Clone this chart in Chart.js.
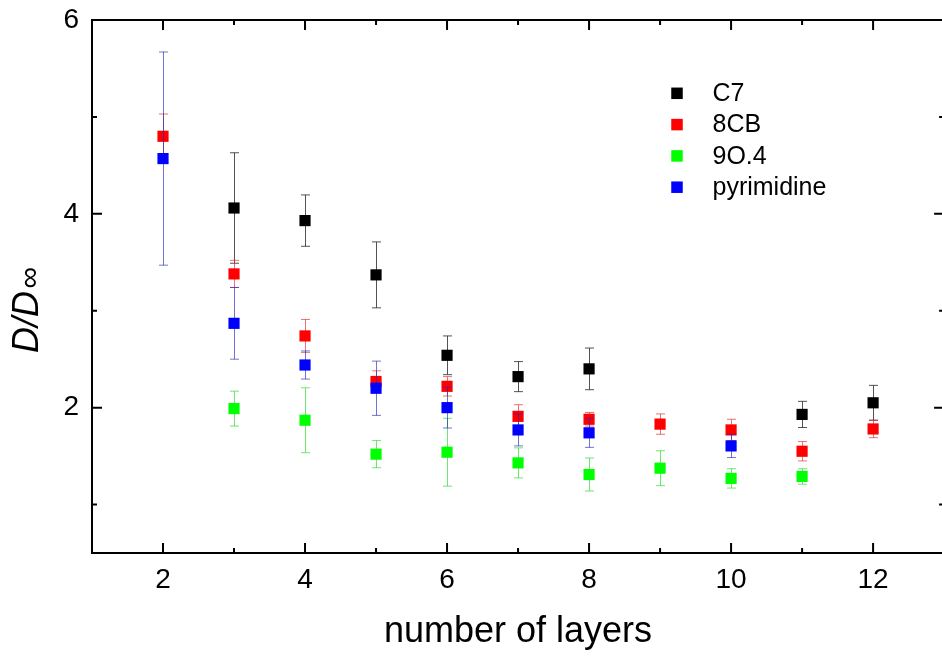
<!DOCTYPE html>
<html><head><meta charset="utf-8">
<script src="https://cdn.jsdelivr.net/npm/chart.js@4.4.1/dist/chart.umd.min.js"></script>
<style>html,body{margin:0;padding:0;background:#fff;overflow:hidden;width:942px;height:657px}canvas{display:block}</style>
</head><body><canvas id="c" width="952" height="657"></canvas>
<script>
// ---- data ----
const seriesNames = ["C7", "8CB", "9O.4", "pyrimidine"];
const seriesColors = ["#000000", "#ff0000", "#00ff00", "#0000ff"];
const errorColors = ["rgba(40,40,40,0.8)", "rgba(220,40,40,0.65)", "rgba(30,220,30,0.65)", "rgba(40,40,190,0.65)"];

const c7Layers = [3, 4, 5, 6, 7, 8, 11, 12];
const c7Values = [4.06, 3.93, 3.37, 2.54, 2.32, 2.40, 1.93, 2.05];
const c7Errors = [0.57, 0.265, 0.34, 0.20, 0.155, 0.215, 0.135, 0.18];

const cb8Layers = [2, 3, 4, 5, 6, 7, 8, 9, 10, 11, 12];
const cb8Values = [4.80, 3.38, 2.74, 2.27, 2.22, 1.91, 1.88, 1.83, 1.77, 1.55, 1.78];
const cb8Errors = [0.23, 0.14, 0.17, 0.11, 0.10, 0.12, 0.07, 0.105, 0.11, 0.10, 0.09];

const o94Layers = [3, 4, 5, 6, 7, 8, 9, 10, 11];
const o94Values = [1.99, 1.87, 1.52, 1.54, 1.43, 1.31, 1.375, 1.27, 1.29];
const o94Errors = [0.18, 0.335, 0.14, 0.35, 0.155, 0.17, 0.18, 0.10, 0.08];

const pyrLayers = [2, 3, 4, 5, 6, 7, 8, 10];
const pyrValues = [4.57, 2.87, 2.44, 2.20, 2.00, 1.77, 1.74, 1.605];
const pyrErrors = [1.10, 0.37, 0.145, 0.28, 0.21, 0.165, 0.15, 0.12];

const xMajorTicks = [2, 4, 6, 8, 10, 12];
const xMinorTicks = [1, 3, 5, 7, 9, 11, 13];
const yMajorTicks = [2, 4, 6];
const yMinorTicks = [1, 3, 5];
const xTitle = "number of layers";
const yTitleMain = "D/D";
const yTitleSub = "\u221E";

// ---- build ----
const allLayers = [c7Layers, cb8Layers, o94Layers, pyrLayers];
const allValues = [c7Values, cb8Values, o94Values, pyrValues];
const allErrors = [c7Errors, cb8Errors, o94Errors, pyrErrors];
const FONT = '"Liberation Sans", Arial, sans-serif';

const datasets = seriesNames.map((name, k) => ({
  label: name,
  data: allLayers[k].map((x, i) => ({x: x, y: allValues[k][i]})),
  backgroundColor: seriesColors[k],
  borderColor: seriesColors[k],
  borderWidth: 0,
  pointStyle: 'rect',
  pointRadius: 7.9,
  pointHoverRadius: 7.9,
  order: seriesNames.length - k
}));

const framePlugin = {
  id: 'framePlugin',
  beforeDatasetDraw(chart, args) {
    const k = args.index;
    const xs = chart.scales.x, ys = chart.scales.y, ctx = chart.ctx;
    ctx.save();
    ctx.strokeStyle = errorColors[k];
    ctx.lineWidth = 1;
    allLayers[k].forEach((xv, i) => {
      const px = Math.round(xs.getPixelForValue(xv)) + 0.5;
      const yt = ys.getPixelForValue(allValues[k][i] + allErrors[k][i]);
      const yb = ys.getPixelForValue(allValues[k][i] - allErrors[k][i]);
      ctx.beginPath();
      ctx.moveTo(px, yt); ctx.lineTo(px, yb);
      ctx.moveTo(px - 4.5, yt); ctx.lineTo(px + 4.5, yt);
      ctx.moveTo(px - 4.5, yb); ctx.lineTo(px + 4.5, yb);
      ctx.stroke();
    });
    ctx.restore();
  },
  afterDraw(chart) {
    const {ctx, chartArea: a} = chart;
    const xs = chart.scales.x, ys = chart.scales.y;
    ctx.save();
    ctx.strokeStyle = '#000';
    ctx.lineWidth = 2;
    ctx.strokeRect(a.left, a.top, a.right - a.left, a.bottom - a.top);
    ctx.beginPath();
    const tk = (list, len) => list.forEach(v => {
      const px = xs.getPixelForValue(v);
      ctx.moveTo(px, a.bottom); ctx.lineTo(px, a.bottom - len);
      ctx.moveTo(px, a.top); ctx.lineTo(px, a.top + len);
    });
    const tky = (list, len) => list.forEach(v => {
      const py = ys.getPixelForValue(v);
      ctx.moveTo(a.left, py); ctx.lineTo(a.left + len, py);
      ctx.moveTo(a.right, py); ctx.lineTo(a.right - len, py);
    });
    tk(xMajorTicks, 10); tk(xMinorTicks, 5);
    tky(yMajorTicks, 10); tky(yMinorTicks, 5);
    ctx.stroke();

    // y title
    ctx.fillStyle = '#000';
    ctx.translate(38, 353);
    ctx.rotate(-Math.PI / 2);
    ctx.textAlign = 'left';
    ctx.textBaseline = 'alphabetic';
    ctx.font = 'italic 36px ' + FONT;
    ctx.fillText(yTitleMain, 0, 0);
    const w = ctx.measureText(yTitleMain).width;
    ctx.font = 'italic 30px ' + FONT;
    ctx.fillText(yTitleSub, w + 2, 1);
    ctx.setTransform(1, 0, 0, 1, 0, 0);

    // legend
    const lx = 677, ly0 = 93.3, dy = 31.3, sz = 11.5;
    ctx.font = '25px ' + FONT;
    ctx.textBaseline = 'middle';
    ctx.textAlign = 'left';
    seriesNames.forEach((n, k) => {
      const y = ly0 + k * dy;
      ctx.fillStyle = seriesColors[k];
      ctx.fillRect(lx - sz / 2, y - sz / 2, sz, sz);
      ctx.fillStyle = '#000';
      ctx.fillText(n, 712.5, y + 1);
    });
    ctx.restore();
  }
};

new Chart(document.getElementById('c'), {
  type: 'scatter',
  data: {datasets},
  options: {
    responsive: false,
    animation: false,
    devicePixelRatio: 1,
    layout: {padding: {top: 20, right: 3, left: 0, bottom: 0}},
    plugins: {legend: {display: false}, tooltip: {enabled: false}},
    scales: {
      x: {
        type: 'linear', min: 1, max: 13,
        grid: {display: false, drawTicks: false},
        border: {display: false},
        afterBuildTicks: s => { s.ticks = xMajorTicks.map(v => ({value: v})); },
        afterFit: s => { s.height = 104; s.paddingLeft = 0; s.paddingRight = 0; },
        ticks: {color: '#000', font: {family: FONT, size: 28}, padding: 10, maxRotation: 0, autoSkip: false},
        title: {display: true, text: xTitle, color: '#000', font: {family: FONT, size: 36}, padding: {top: 0, bottom: 3}}
      },
      y: {
        type: 'linear', min: 0.5, max: 6,
        grid: {display: false, drawTicks: false},
        border: {display: false},
        afterBuildTicks: s => { s.ticks = yMajorTicks.map(v => ({value: v})); },
        afterFit: s => { s.width = 92; s.paddingTop = 0; s.paddingBottom = 0; },
        ticks: {color: '#000', font: {family: FONT, size: 28}, padding: 13, autoSkip: false}
      }
    }
  },
  plugins: [framePlugin]
});
</script>
</body></html>
